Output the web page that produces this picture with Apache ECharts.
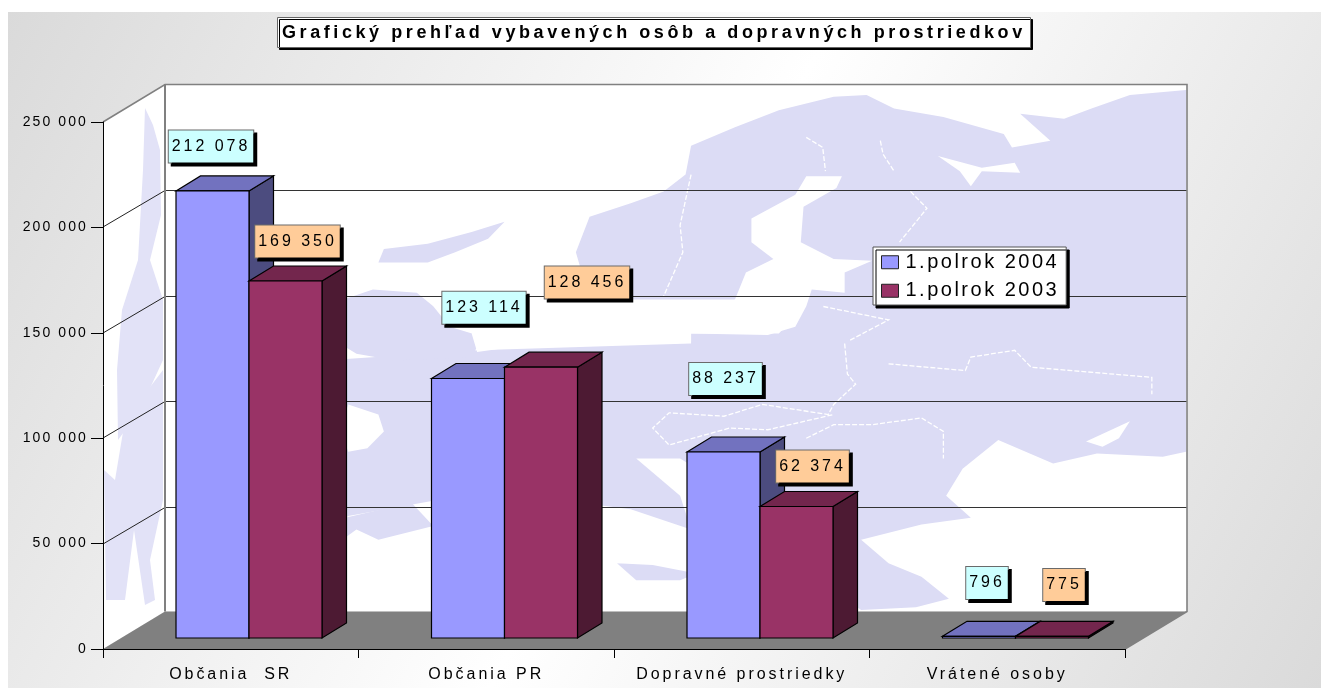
<!DOCTYPE html>
<html><head><meta charset="utf-8">
<style>html,body{margin:0;padding:0;background:#fff}#c{width:1321px;height:688px}</style>
<script src="https://cdn.jsdelivr.net/npm/echarts@6/dist/echarts.min.js"></script>
</head><body><div id="c"></div>
<script>
// ---- data
const categories = ['Občania  SR', 'Občania PR', 'Dopravné prostriedky', 'Vrátené osoby'];
const seriesNames = ['1.polrok 2004', '1.polrok 2003'];
const values2004 = [212078, 123114, 88237, 796];
const values2003 = [169350, 128456, 62374, 775];
const yTicks = [0, 50000, 100000, 150000, 200000, 250000];
const titleText = 'Grafický prehľad vybavených osôb a dopravných prostriedkov';

// ---- letter spacing of the original renderer (per font size)
const SPACING = {14: 2.1, 16: 2.95, 18: 3.58, 20: 2.5};
const spacingFor = ctx => { const m = /(\d+(?:\.\d+)?)px/.exec(ctx.font); return ((m && SPACING[+m[1]]) || 0) + 'px'; };
['fillText', 'strokeText', 'measureText'].forEach(fn => {
  const orig = CanvasRenderingContext2D.prototype[fn];
  CanvasRenderingContext2D.prototype[fn] = function () { this.letterSpacing = spacingFor(this); return orig.apply(this, arguments); };
});

// ---- layout constants
const FONT = '"Liberation Sans", Arial, sans-serif';
const G = {left: 103, top: 122, width: 1022, height: 527};
const WALL = {dx: 62, dy: -37.5};           // depth of the floor
const BASE = {dx: 18.25, dy: -11};          // how far the bar front sits behind the axis
const BAR = {width: 73, gapLeft: 73 - 18.25, dx: 24.5, dy: -15};
const FACE = [
  {front: '#9999FF', top: '#7272BF', side: '#4C4C7F', label: '#CCFFFF'},
  {front: '#993366', top: '#73264D', side: '#4D1A33', label: '#FFCC99'}
];
// label-box centre relative to the top-centre of its bar
const LABEL_OFFSET = [
  [[-1.5, -44.5], [16, -70.8], [2, -73], [8, -53.3]],
  [[12, -39.5], [46, -84.7], [16, -40], [12, -51.4]]
];
const LAND = '#DCDCF5';
const zm = p => [Math.min(1186, Math.max(166, 340 + p[0] / 1.823)), Math.min(610, Math.max(86, 90 + p[1] / 2.958))];
const mapLand = [
  [[455,620],[430,480],[455,375],[530,335],[590,300],[630,250],[640,165],[720,110],[800,60],[900,20],[960,15],[1010,55],[1100,80],[1210,130],[1225,170],[1295,150],[1240,70],[1320,85],[1370,55],[1440,15],[1543,0],[1543,1070],[1500,1085],[1380,1075],[1300,1105],[1200,1035],[1135,1120],[1105,1200],[1150,1265],[1060,1285],[950,1330],[1000,1400],[1060,1440],[1110,1505],[1050,1530],[950,1540],[900,1480],[850,1400],[800,1300],[720,1190],[620,1090],[540,1090],[620,1200],[640,1300],[530,1240],[480,1230],[170,1215],[15,1260],[-30,1300],[-30,800],[250,770],[640,750],[640,720],[800,720],[835,660],[850,620]],
  [[-30,640],[60,590],[140,600],[170,640],[200,700],[260,730],[240,790],[100,800],[30,780],[-30,720]],
  [[80,470],[160,455],[240,420],[300,390],[270,440],[210,480],[160,510],[70,510]],
  [[505,1400],[570,1405],[650,1430],[620,1450],[540,1450]],
  [[-30,1280],[130,1220],[170,1290],[70,1330],[30,1300],[-30,1370]]
];
const mapSea = [
  [[1090,195],[1170,230],[1230,215],[1240,245],[1170,240],[1150,285],[1130,240]],
  [[1320,15],[1355,15],[1350,40],[1325,35]],
  [[850,255],[915,255],[905,290],[845,345],[840,450],[900,500],[970,505],[920,540],[920,600],[860,590],[850,640],[830,700],[780,725],[640,720],[640,745],[500,740],[360,750],[250,775],[240,720],[270,690],[300,620],[340,560],[440,540],[470,620],[470,680],[530,720],[650,690],[720,620],[740,540],[790,500],[750,450],[750,380],[830,310]],
  [[15,930],[70,960],[80,1010],[50,1060],[15,1070],[0,1000]],
  [[1360,1040],[1440,980],[1420,1030],[1390,1055]],
  [[-30,1380],[500,1240],[620,1330],[640,1395],[500,1400],[500,1450],[680,1500],[800,1540],[-30,1540]]
];
const mapBorders = [
  [[920,750],[925,840],[940,870],[900,930],[890,960],[770,930],[700,965],[600,955],[570,1000],[600,1050],[710,1000],[780,1005],[900,960]],
  [[1040,300],[1070,350],[1020,450]],
  [[640,250],[620,400],[625,480],[590,610]],
  [[930,740],[1000,680],[880,640]],
  [[1000,810],[1140,830],[1150,790],[1230,770],[1260,820],[1480,850],[1480,900]],
  [[850,1030],[900,990],[970,990],[1060,970],[1100,1010],[1100,1090]],
  [[850,140],[880,170],[885,240]],
  [[985,150],[990,190],[1010,240]]
];
const sideLand = [
  [[145,108],[153,125],[160,150],[161,215],[150,260],[163,300],[163,360],[140,410],[118,440],[117,370],[122,310],[138,260],[143,170]],
  [[125,420],[163,370],[163,500],[150,560],[155,600],[145,605],[134,530],[125,600],[106,600],[104,470],[115,480]]
];

const fmt = v => String(v).replace(/\B(?=(\d{3})+$)/g, ' ');
const poly = (points, fill, stroke, lw, z2) => ({
  type: 'polygon', z2: z2 || 0, silent: true, shape: {points},
  style: {fill: fill, stroke: stroke || null, lineWidth: lw || 0}
});
const line = (a, b, stroke, lw) => ({
  type: 'line', silent: true, shape: {x1: a[0], y1: a[1], x2: b[0], y2: b[1]},
  style: {stroke, lineWidth: lw || 1, fill: null}
});

// walls, floor, map, grid lines
function renderWalls(params, api) {
  const x0 = G.left, x1 = G.left + G.width;
  const yT = api.coord([0, 250000])[1], yB = api.coord([0, 0])[1];
  const d = WALL;
  const children = [];
  children.push(poly([[x0 + d.dx, yT + d.dy], [x1 + d.dx, yT + d.dy], [x1 + d.dx, yB + d.dy], [x0 + d.dx, yB + d.dy]], '#fff'));
  children.push(poly([[x0, yT], [x0 + d.dx, yT + d.dy], [x0 + d.dx, yB + d.dy], [x0, yB]], '#fff'));
  sideLand.forEach(p => children.push(poly(p, '#E2E2F7')));
  mapLand.forEach(p => children.push(poly(p.map(zm), LAND)));
  mapSea.forEach(p => children.push(poly(p.map(zm), '#fff')));
  mapBorders.forEach(p => children.push({type: 'polyline', silent: true, shape: {points: p.map(zm)}, style: {stroke: '#fff', lineWidth: 1.3, fill: null, lineDash: [5, 2]}}));
  yTicks.forEach(t => {
    if (t === 0 || t === 250000) return;
    const y = Math.round(api.coord([0, t])[1]);
    const by = Math.round(y + d.dy) + 0.5;
    children.push(line([x0 + d.dx, by], [x1 + d.dx, by], '#333', 1));
    children.push(line([x0, y], [x0 + d.dx, by], '#222', 1));
  });
  // wall edges
  children.push(poly([[x0, yB], [x1, yB], [x1 + d.dx, yB + d.dy], [x0 + d.dx, yB + d.dy]], '#808080'));
  children.push({type: 'polyline', silent: true, shape: {points: [[x0, yT], [x0 + d.dx, yT + d.dy], [x1 + d.dx, yT + d.dy], [x1 + d.dx, yB + d.dy], [x1, yB]]}, style: {stroke: '#808080', lineWidth: 1.6, fill: null}});
  children.push(line([x0 + d.dx, yT + d.dy], [x0 + d.dx, yB + d.dy], '#808080', 2));
  return {type: 'group', children};
}

function renderBar(sIdx) {
  return function (params, api) {
    const cat = api.value(0), v = api.value(1);
    const band = api.size([1, 0])[0];
    const start = api.coord([cat, 0])[0] - band / 2;
    const x = start + BAR.gapLeft + BASE.dx + sIdx * BAR.width;
    const yb = api.coord([cat, 0])[1] + BASE.dy;
    const yt = api.coord([cat, v])[1] + BASE.dy;
    const w = BAR.width, dx = BAR.dx, dy = BAR.dy;
    const f = FACE[sIdx];
    const o = LABEL_OFFSET[sIdx][cat];
    return {type: 'group', children: [
      poly([[x + w, yt], [x + w + dx, yt + dy], [x + w + dx, yb + dy], [x + w, yb]], f.side, '#000', 1.2),
      poly([[x, yt], [x + dx, yt + dy], [x + w + dx, yt + dy], [x + w, yt]], f.top, '#000', 1.2),
      poly([[x, yt], [x + w, yt], [x + w, yb], [x, yb]], f.front, '#000', 1.2),
      {type: 'text', z2: 50, silent: true, x: x + w / 2 + o[0], y: yt + o[1],
        style: {text: fmt(v), font: '16px ' + FONT, fill: '#000', align: 'center', verticalAlign: 'middle',
          backgroundColor: f.label, borderColor: '#6a6a6a', borderWidth: 1, padding: [7, 3, 6, 3],
          shadowColor: '#000', shadowOffsetX: 3, shadowOffsetY: 3, shadowBlur: 0}}
    ]};
  };
}

const chart = echarts.init(document.getElementById('c'), null, {renderer: 'canvas'});
chart.setOption({
  animation: false,
  backgroundColor: '#fff',
  graphic: [{type: 'rect', z: -10, silent: true, shape: {x: 8, y: 12, width: 1313, height: 676},
    style: {fill: new echarts.graphic.LinearGradient(0, 0, 1, 1, [
      {offset: 0, color: '#DADADA'}, {offset: 0.5, color: '#FFFFFF'}, {offset: 1, color: '#DADADA'}])}}],
  title: {
    text: titleText, left: 277, top: 17, padding: [5, 5, 4, 5],
    backgroundColor: '#fff', borderColor: '#666', borderWidth: 1,
    shadowColor: '#000', shadowOffsetX: 2, shadowOffsetY: 2, shadowBlur: 0,
    textStyle: {fontFamily: FONT, fontSize: 18, fontWeight: 'bold', color: '#000'}
  },
  legend: {
    data: seriesNames, orient: 'vertical', left: 873, top: 247, padding: [4, 7, 3, 8],
    itemWidth: 17, itemHeight: 13, itemGap: 6, icon: 'rect', selectedMode: false,
    backgroundColor: '#fff', borderColor: '#555', borderWidth: 1,
    shadowColor: '#000', shadowOffsetX: 3, shadowOffsetY: 3, shadowBlur: 0,
    itemStyle: {borderColor: '#222', borderWidth: 1},
    textStyle: {fontFamily: FONT, fontSize: 20, lineHeight: 20, color: '#000', padding: [0, 0, 0, 2]}
  },
  grid: {left: G.left, top: G.top, width: G.width, height: G.height, containLabel: false},
  xAxis: {
    type: 'category', data: categories, boundaryGap: true,
    axisLine: {lineStyle: {color: '#000', width: 1}},
    axisTick: {show: true, length: 9, alignWithLabel: false, lineStyle: {color: '#000'}},
    axisLabel: {fontFamily: FONT, fontSize: 16, color: '#000', margin: 16, interval: 0},
    splitLine: {show: false}
  },
  yAxis: {
    type: 'value', min: 0, max: 250000, interval: 50000,
    axisLine: {show: true, lineStyle: {color: '#000', width: 1}},
    axisTick: {show: true, length: 12, lineStyle: {color: '#000'}},
    axisLabel: {fontFamily: FONT, fontSize: 14, color: '#000', margin: 15, formatter: fmt},
    splitLine: {show: false}
  },
  series: [
    {type: 'custom', name: 'walls', z: 0, clip: false, silent: true, data: [[0, 0]], renderItem: renderWalls},
    {type: 'custom', name: seriesNames[0], z: 3, clip: false, silent: true, itemStyle: {color: FACE[0].front},
      data: values2004.map((v, i) => [i, v]), encode: {x: 0, y: 1}, renderItem: renderBar(0)},
    {type: 'custom', name: seriesNames[1], z: 4, clip: false, silent: true, itemStyle: {color: FACE[1].front},
      data: values2003.map((v, i) => [i, v]), encode: {x: 0, y: 1}, renderItem: renderBar(1)}
  ]
});
</script></body></html>
